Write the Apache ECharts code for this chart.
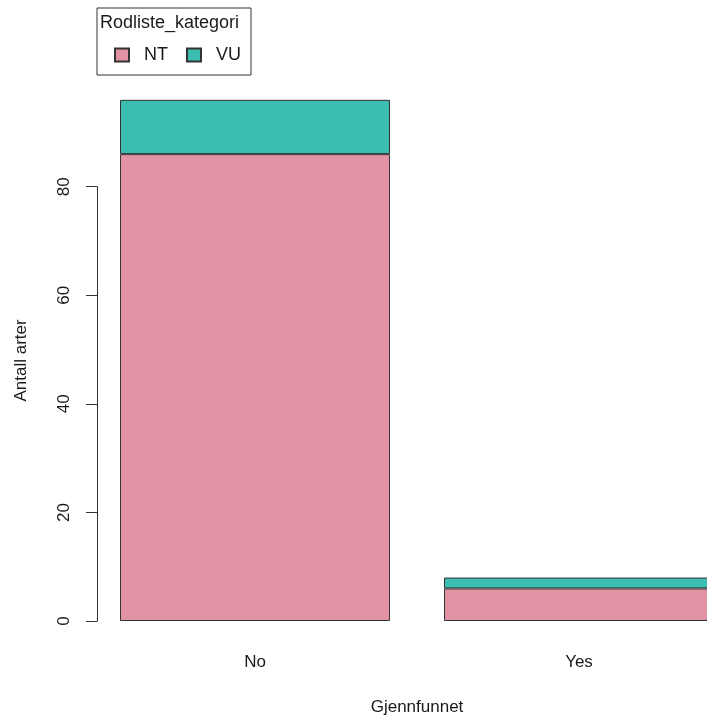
<!DOCTYPE html>
<html>
<head>
<meta charset="utf-8">
<script src="https://cdn.jsdelivr.net/npm/echarts@6/dist/echarts.min.js"></script>
<style>
  html, body { margin: 0; padding: 0; background: #fff; }
  #chart { width: 707px; height: 720px; }
</style>
</head>
<body>
<div id="chart"></div>
<script>
// Species counts per red-list category, split by whether they were found again
const categories = ['No', 'Yes'];
const seriesNames = ['NT', 'VU'];
const ntValues = [86, 6];
const vuValues = [10, 2];
const yTickMax = 80;
const yTickStep = 20;

const FONT = "'Liberation Sans', Arial, Helvetica, sans-serif";
const TEXT = '#1a1a1a';
const LINE = '#333333';
const NT_COLOR = '#E394A4';
const VU_COLOR = '#3BBDB0';

// Plot layout (pixels); the plot region runs past the right edge of the canvas
const plotLeft = 93;
const plotWidth = 648;
const zeroY = 621;
const tickTopY = 186.7;
const pxPerUnit = (zeroY - tickTopY) / yTickMax;
const totals = ntValues.map((v, i) => v + vuValues[i]);
const dataMax = Math.max(...totals);
const barsTop = zeroY - dataMax * pxPerUnit;

const chart = echarts.init(document.getElementById('chart'), null, { renderer: 'canvas' });

chart.setOption({
  backgroundColor: '#ffffff',
  animation: false,
  textStyle: { fontFamily: FONT, color: TEXT },
  title: {
    text: 'Rodliste_kategori',
    left: 100,
    top: 14,
    padding: 0,
    textStyle: { fontFamily: FONT, fontSize: 18, fontWeight: 'normal', color: TEXT }
  },
  legend: {
    data: seriesNames,
    left: 97,
    top: 8,
    orient: 'horizontal',
    icon: 'rect',
    itemWidth: 14,
    itemHeight: 13,
    itemGap: 18,
    padding: [38, 10, 11, 17],
    borderColor: LINE,
    borderWidth: 1,
    selectedMode: false,
    textStyle: { fontFamily: FONT, fontSize: 18, color: TEXT, padding: [0, 0, 0, 10] }
  },
  grid: [
    // bars
    { left: plotLeft, width: plotWidth, top: barsTop, bottom: 720 - zeroY, outerBoundsMode: 'none', containLabel: false },
    // value axis drawn from 0 up to the last tick only
    { left: plotLeft, width: plotWidth, top: tickTopY, bottom: 720 - zeroY, outerBoundsMode: 'none', containLabel: false }
  ],
  xAxis: [
    {
      type: 'category',
      gridIndex: 0,
      data: categories,
      axisLine: { show: false },
      axisTick: { show: false },
      axisLabel: { fontFamily: FONT, fontSize: 17, color: TEXT, margin: 33 },
      name: 'Gjennfunnet',
      nameLocation: 'middle',
      nameGap: 78,
      nameTextStyle: { fontFamily: FONT, fontSize: 17, color: TEXT }
    },
    { type: 'category', gridIndex: 1, data: categories, show: false }
  ],
  yAxis: [
    {
      type: 'value',
      gridIndex: 0,
      min: 0,
      max: 'dataMax',
      axisLine: { show: false },
      axisTick: { show: false },
      axisLabel: { show: false },
      splitLine: { show: false },
      name: 'Antall arter',
      nameLocation: 'middle',
      nameRotate: 90,
      nameGap: 63,
      nameTextStyle: { fontFamily: FONT, fontSize: 17, color: TEXT }
    },
    {
      type: 'value',
      gridIndex: 1,
      min: 0,
      max: yTickMax,
      interval: yTickStep,
      offset: -4,
      axisLine: { show: true, lineStyle: { color: LINE, width: 1 } },
      axisTick: { show: true, length: 11, lineStyle: { color: LINE, width: 1 } },
      axisLabel: { fontFamily: FONT, fontSize: 17, color: TEXT, rotate: 90, margin: 24 },
      splitLine: { show: false }
    }
  ],
  series: [
    {
      name: 'NT',
      type: 'bar',
      xAxisIndex: 0,
      yAxisIndex: 0,
      stack: 'total',
      data: ntValues,
      barCategoryGap: '16.667%',
      clip: false,
      itemStyle: { color: NT_COLOR, borderColor: LINE, borderWidth: 1 }
    },
    {
      name: 'VU',
      type: 'bar',
      xAxisIndex: 0,
      yAxisIndex: 0,
      stack: 'total',
      data: vuValues,
      barCategoryGap: '16.667%',
      clip: false,
      itemStyle: { color: VU_COLOR, borderColor: LINE, borderWidth: 1 }
    }
  ]
});
</script>
</body>
</html>
